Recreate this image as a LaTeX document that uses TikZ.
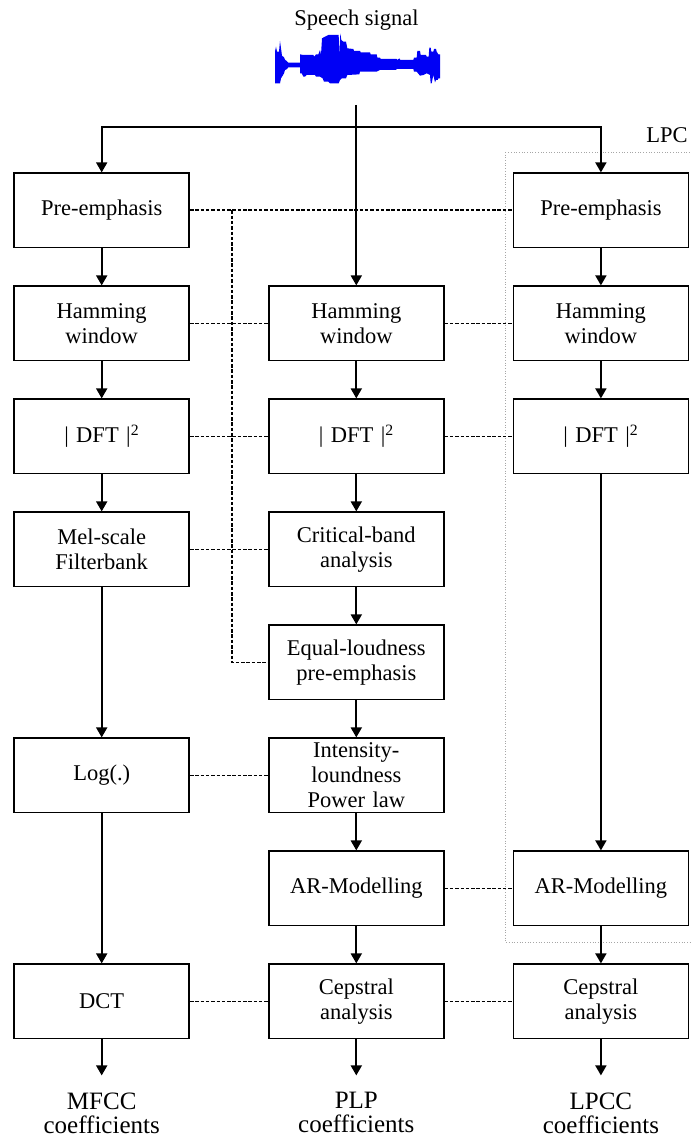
\documentclass[tikz,border=0pt]{standalone}
\usepackage{fontspec}
\setmainfont{Liberation Serif}
\usetikzlibrary{matrix,positioning,arrows.meta}
\definecolor{waveblue}{RGB}{0,0,245}
\newcommand{\blockfont}{\fontsize{22.5}{25}\selectfont}
\newcommand{\outfont}{\fontsize{25}{24}\selectfont}

\begin{document}
\begin{tikzpicture}[x=1pt,y=-1pt]
\tikzset{block/.style={draw,line width=1.6pt,anchor=center,text width=171pt,inner xsep=2pt,inner ysep=2pt,minimum height=74.4pt,align=center,font=\blockfont},
  arr/.style={line width=1.8pt,-{Triangle[length=10pt,width=11pt]}},
  link/.style={line width=1.8pt,dash pattern=on 3.5pt off 1.8pt},
  lpcframe/.style={draw=black!35,line width=0.7pt,dotted},
  coeff/.style={align=center,font=\outfont,inner xsep=0pt,inner ysep=17pt}}
\useasboundingbox (0,0) rectangle (691,1139);
\node[font=\blockfont] (speech) at (356.5,20) {Speech signal};
\begin{scope}[shift={(260,25)},scale=1/3]
\fill[waveblue] plot coordinates {(45,175) (45,80) (48,65) (51,80) (57,80) (60,48) (63,70) (66,92) (72,97) (75,104) (80,108) (85,113) (120,113) (120,88) (130,90) (160,90) (163,95) (168,88) (175,88) (180,75) (183,90) (186,40) (195,35) (205,30) (236,30) (238,90) (241,25) (244,45) (250,50) (258,50) (262,70) (280,72) (282,78) (300,78) (302,82) (330,82) (332,88) (350,88) (352,98) (360,98) (362,102) (410,102) (412,105) (418,100) (421,105) (460,105) (462,98) (470,98) (472,78) (480,78) (482,90) (498,90) (500,95) (506,95) (508,68) (512,68) (514,80) (520,80) (522,72) (528,72) (530,80) (535,88) (540,88)
 (540,160) (535,160) (533,165) (528,165) (525,172) (520,150) (515,175) (512,175) (510,150) (500,145) (490,150) (480,152) (470,140) (462,140) (460,132) (410,132) (408,135) (360,135) (350,140) (300,140) (298,148) (262,150) (258,160) (245,160) (240,165) (236,175) (210,175) (205,170) (192,170) (188,160) (180,155) (168,155) (165,150) (140,150) (135,155) (130,155) (125,145) (120,145) (120,127) (85,127) (80,133) (75,135) (72,145) (68,152) (63,160) (60,175) (50,175)} -- cycle;
\end{scope}
\draw[lpcframe] (505,152) rectangle (697,942);
\node[font=\blockfont] (lpc) at (667,135) {LPC};
\matrix (m) [matrix of nodes, nodes={block}, row sep=37pt, column sep=68pt, inner sep=0pt, anchor=north west] at (13.2,172.2) {
Pre-emphasis &[10pt] & Pre-emphasis \\
{Hamming\\window} & {Hamming\\window} & {Hamming\\window} \\
\textbar{} DFT \textbar\textsuperscript{2} & \textbar{} DFT \textbar\textsuperscript{2} & \textbar{} DFT \textbar\textsuperscript{2} \\
{Mel-scale\\Filterbank} & {Critical-band\\analysis} & \\
 & {Equal-loudness\\pre-emphasis} & \\
Log(.) & {Intensity-\\loundness\\Power law} & \\
 & AR-Modelling & AR-Modelling \\
DCT & {Cepstral\\analysis} & {Cepstral\\analysis} \\
};
\node[coeff, below=36pt of m-8-1] (mfcc) {MFCC\\coefficients};
\node[coeff, below=36pt of m-8-2] (plp) {PLP\\coefficients};
\node[coeff, below=36pt of m-8-3] (lpcc) {LPCC\\coefficients};
% signal split
\coordinate (src) at (m-2-2 |- 0,105);
\coordinate (split) at (m-2-2 |- 0,127);
\draw[arr] (src) -- (m-2-2);
\draw[arr] (split) -| (m-1-1);
\draw[arr] (split) -| (m-1-3);
\foreach \a/\b in {m-1-1/m-2-1, m-2-1/m-3-1, m-3-1/m-4-1, m-4-1/m-6-1, m-6-1/m-8-1, m-8-1/mfcc,
  m-2-2/m-3-2, m-3-2/m-4-2, m-4-2/m-5-2, m-5-2/m-6-2, m-6-2/m-7-2, m-7-2/m-8-2, m-8-2/plp,
  m-1-3/m-2-3, m-2-3/m-3-3, m-3-3/m-7-3, m-7-3/m-8-3, m-8-3/lpcc}
  \draw[arr] (\a) -- (\b);
% dotted links
\draw[link] (m-1-1) -- (m-1-3);
\coordinate[right=42pt of m-1-1.east] (tap);
\draw[link] (tap) |- (m-5-2);
\foreach \r in {2,3,8}
  \draw[link] (m-\r-1) -- (m-\r-2) -- (m-\r-3);
\draw[link] (m-4-1) -- (m-4-2);
\draw[link] (m-6-1) -- (m-6-2);
\draw[link] (m-7-2) -- (m-7-3);
\end{tikzpicture}
\end{document}
